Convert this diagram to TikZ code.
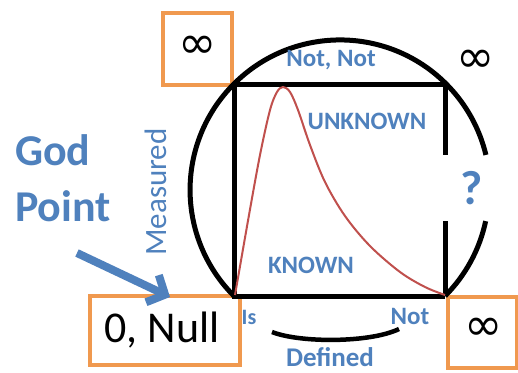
\documentclass[tikz,border=0pt]{standalone}
\usepackage{fontspec}
\setmainfont{Carlito}
\newfontfamily\symfont{DejaVu Sans}
\usetikzlibrary{arrows.meta}
\definecolor{lblue}{HTML}{4F81BD}
\definecolor{orng}{HTML}{F0994F}
\definecolor{cred}{HTML}{C0504D}
\begin{document}
\begin{tikzpicture}[x=1pt,y=-1pt,
  lbl/.style={text=lblue, font=\fontsize{25}{25}\selectfont\bfseries, inner sep=0pt},
  big/.style={text=lblue, font=\fontsize{44}{44}\selectfont\bfseries, inner sep=0pt},
  obox/.style={draw=orng, line width=4pt, inner sep=0pt},
  inf/.style={font=\symfont\fontsize{46}{46}\selectfont, inner sep=0pt},
  thick line/.style={line width=5pt, black},
]
\useasboundingbox[fill=white] (0,0) rectangle (518,372);
% orange boxes
\node[obox, minimum width=69pt, minimum height=72pt] (tlbox) at (197.5,49) {};
\node[inf] (inftl) at (197.5,47) {∞};
\node[obox, minimum width=150pt, minimum height=69pt] (null) at (165,330) {};
\node[font=\fontsize{44}{44}\selectfont, inner sep=0pt] (nulltxt) at (162,330) {0, Null};
\node[obox, minimum width=69pt, minimum height=71pt] (brbox) at (482.5,332.5) {};
\node[inf] (infbr) at (484,329) {∞};
\node[inf] (inftr) at (476,61) {∞};
% square
\coordinate (A) at (234,296);
\coordinate (B) at (445,296);
\coordinate (C) at (445,84);
\coordinate (D) at (234,84);
\coordinate (C1) at (445,155);
\coordinate (B1) at (445,221);
\draw[thick line, line cap=butt] (B) -- (A) -- (D) -- (C) -- (C1);
\draw[thick line] (B) -- (B1);
% circle arcs (centre 340,190 ; r 150)
\draw[thick line] (A) arc[start angle=225, end angle=13.5, radius=150pt];
\draw[thick line] (B) arc[start angle=-45, end angle=-12, radius=150pt];
\draw[line width=4.5pt] (272,332) .. controls (300,343) and (370,343) .. (399,329);
% red curve
\draw[cred, line width=2pt] plot[smooth, tension=0.55] coordinates {
 (235,295) (249,215) (260,155) (270,110) (277,92) (283,87) (290,92) (298,110)
 (310,145) (325,182) (345,216) (370,246) (400,272) (425,287) (445,295)};
% labels
\node[lbl] (notnot) at (331,60) {Not, Not};
\node[lbl] (unknown) at (367,121) {UNKNOWN};
\node[lbl] (known) at (311,265) {KNOWN};
\node[lbl, font=\fontsize{22}{22}\selectfont\bfseries] (is) at (249,317) {Is};
\node[lbl] (not) at (410,316) {Not};
\node[lbl, font=\fontsize{27}{27}\selectfont\bfseries, anchor=base] (defined) at (330,366) {Defined};
\node[big, font=\fontsize{48}{48}\selectfont\bfseries] (q) at (472,188) {?};
\node[lbl, font=\fontsize{31}{31}\selectfont, rotate=90] (measured) at (156,192) {Measured};
\node[big, anchor=base west] (god) at (15,165) {God};
\node[big, anchor=base west] (point) at (15,221) {Point};
% arrow
\coordinate (arrstart) at (77,253);
\draw[lblue, line width=8pt, -{Straight Barb[length=14pt, width=30pt]}] (arrstart) -- (170,297);
\end{tikzpicture}
\end{document}
